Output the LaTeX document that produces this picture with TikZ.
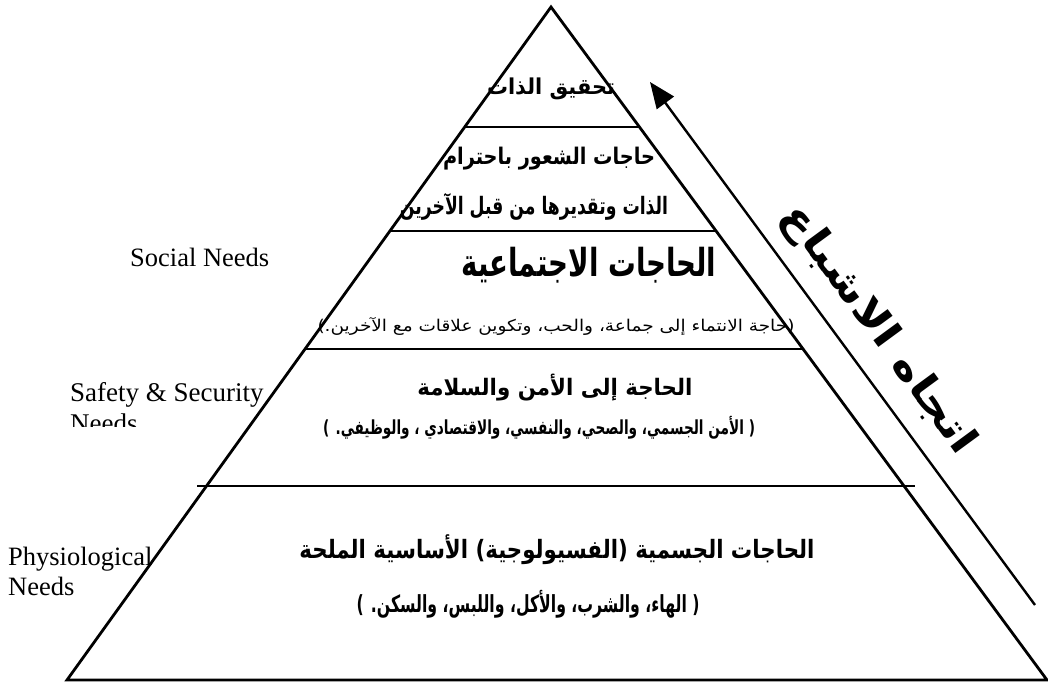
\documentclass[tikz,border=0pt]{standalone}
\usepackage{fontspec}
\usepackage{graphicx}
\setmainfont{Liberation Serif}
\newfontfamily\arabicfont[Script=Arabic]{DejaVu Sans}
\TeXXeTstate=1
\usetikzlibrary{arrows.meta,calc}
\newcommand{\arb}{\arabicfont\bfseries}
\newcommand{\arr}{\arabicfont}
\tikzset{
  edge/.style={line width=2.8pt, line join=miter},
  level/.style={line width=2.4pt},
  arrowline/.style={line width=2.4pt, -{Triangle[length=26pt,width=21pt]}},
  artext/.style={inner sep=0pt, outer sep=0pt},
  lbl/.style={inner sep=0pt, font=\fontsize{26.5}{30}\selectfont, anchor=base west}
}
\begin{document}
\begin{tikzpicture}[x=1pt,y=-1pt]
\useasboundingbox (0,0) rectangle (1048,684);
% pyramid
\coordinate (apex) at (551,7);
\coordinate (bl) at (67,680);
\coordinate (br) at (1047,680);
\draw[edge] (bl) -- (apex) -- (br) -- cycle;
% level lines
\coordinate (l1a) at ($(apex)!0.1783!(bl)$);
\coordinate (l1b) at ($(apex)!0.1783!(br)$);
\coordinate (l2a) at ($(apex)!0.3328!(bl)$);
\coordinate (l2b) at ($(apex)!0.3328!(br)$);
\coordinate (l3a) at ($(apex)!0.5082!(bl)$);
\coordinate (l3b) at ($(apex)!0.5082!(br)$);
\coordinate (l4a) at (197,486);
\coordinate (l4b) at (915,486);
\draw[level] (l1a) -- (l1b);
\draw[level] (l2a) -- (l2b);
\draw[level] (l3a) -- (l3b);
\draw[level] (l4a) -- (l4b);
% texts inside
\node[artext] (t1) at (551,89) {\resizebox*{128pt}{22pt}{\arb\beginR تحقيق الذات\endR}};
\node[artext] (t2) at (549,159) {\resizebox*{212pt}{23pt}{\arb\beginR حاجات الشعور باحترام\endR}};
\node[artext] (t3) at (534,207) {\resizebox*{268pt}{27pt}{\arb\beginR الذات وتقديرها من قبل الآخرين\endR}};
\node[artext] (t4) at (589,265) {\resizebox*{255pt}{36pt}{\arb\beginR الحاجات الاجتماعية\endR}};
\node[artext] (t5) at (556,326) {\resizebox*{477pt}{18pt}{\arr\beginR (حاجة الانتماء إلى جماعة، والحب، وتكوين علاقات مع الآخرين.)\endR}};
\node[artext] (t6) at (555,388) {\resizebox*{275pt}{27pt}{\arb\beginR الحاجة إلى الأمن والسلامة\endR}};
\node[artext] (t7) at (539,428) {\resizebox*{432pt}{23pt}{\arb\beginR ( الأمن الجسمي، والصحي، والنفسي، والاقتصادي ، والوظيفي. )\endR}};
\node[artext] (t8) at (557,550) {\resizebox*{515pt}{30pt}{\arb\beginR الحاجات الجسمية (الفسيولوجية) الأساسية الملحة\endR}};
\node[artext] (t9) at (528,604) {\resizebox*{343pt}{28pt}{\arb\beginR ( الهاء، والشرب، والأكل، واللبس، والسكن. )\endR}};
% left labels
\node[lbl] (social) at (130,267) {Social Needs};
\node[lbl, font=\fontsize{27}{30}\selectfont] (safety) at (70,401) {Safety \& Security};
\begin{scope}
\clip (0,0) rectangle (300,426);
\node[lbl, font=\fontsize{27}{30}\selectfont] (safetyn) at (70,432) {Needs};
\end{scope}
\node[lbl] (phys) at (8,565) {Physiological};
\node[lbl] (physn) at (8,595) {Needs};
% direction arrow
\coordinate (arrs) at (1035,605);
\coordinate (arrt) at (650,82);
\draw[arrowline] (arrs) -- (arrt);
\node[artext, rotate=-53.7] (dir) at (878,330) {\resizebox*{300pt}{40pt}{\arb\beginR اتجاه الاشباع\endR}};
\end{tikzpicture}
\end{document}
